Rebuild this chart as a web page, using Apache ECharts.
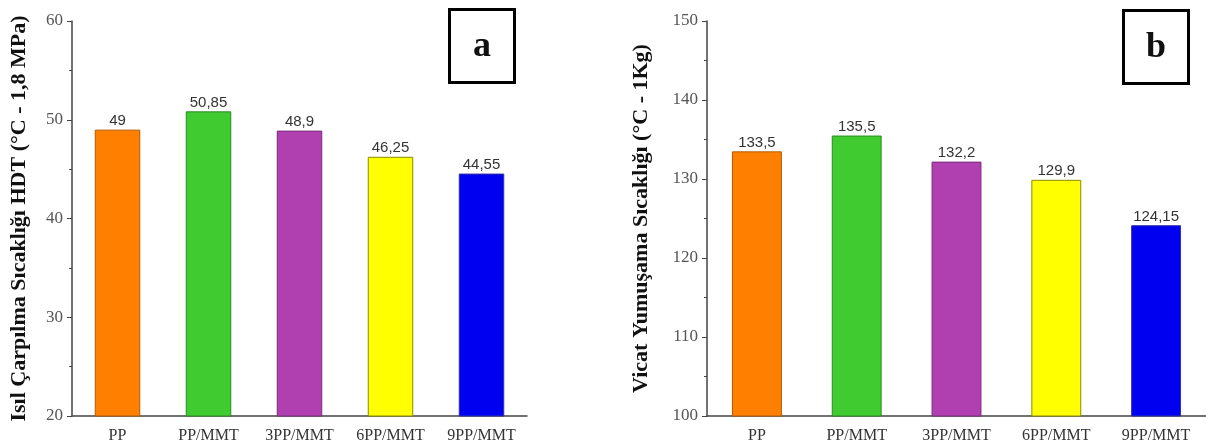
<!DOCTYPE html>
<html lang="tr">
<head>
    <meta charset="UTF-8">
    <title>HDT / Vicat</title>
    <style>
        html,body{
            height: 100%;
        }
        body{
            margin: 0;
            padding: 0;
            background: #fff;
        }
        #chart{
            width: 1206px;
            height: 447px;
        }
    </style>
</head>
<body>
    <div id="chart"></div>
<script src="https://cdn.jsdelivr.net/npm/echarts@6/dist/echarts.min.js"></script>
<script>
    var categories = ['PP', 'PP/MMT', '3PP/MMT', '6PP/MMT', '9PP/MMT'];
    var hdtValues = [49, 50.85, 48.9, 46.25, 44.55];
    var vicatValues = [133.5, 135.5, 132.2, 129.9, 124.15];
    var barColors = ['#ff8000', '#40cc30', '#b040b0', '#ffff00', '#0000f0'];
    var borderColors = ['#b05a00', '#2a8a20', '#7a2a7a', '#8a8a00', '#3030a0'];

    var serif = '"Liberation Serif", "DejaVu Serif", serif';
    var sans = '"Liberation Sans", Arial, sans-serif';
    var axisColor = '#444';

    function toData(values) {
        return values.map(function (v, i) {
            return {
                value: v,
                itemStyle: { color: barColors[i], borderColor: borderColors[i], borderWidth: 1 }
            };
        });
    }

    function xAxisFor(gridIndex) {
        return {
            type: 'category',
            gridIndex: gridIndex,
            data: categories,
            axisLine: { lineStyle: { color: axisColor, width: 1.5 } },
            axisTick: { alignWithLabel: true, length: 5, lineStyle: { color: axisColor } },
            axisLabel: { color: '#333', fontFamily: serif, fontSize: 16, margin: 12 }
        };
    }

    function yAxisFor(gridIndex, min, max, name, gap) {
        return {
            type: 'value',
            gridIndex: gridIndex,
            min: min,
            max: max,
            interval: 10,
            name: name,
            nameLocation: 'middle',
            nameRotate: 90,
            nameGap: gap,
            nameTextStyle: { color: '#111', fontFamily: serif, fontSize: 22, fontWeight: 'bold' },
            axisLine: { show: true, lineStyle: { color: axisColor, width: 1.5 } },
            axisTick: { show: true, length: 5, lineStyle: { color: axisColor } },
            minorTick: { show: true, splitNumber: 2, length: 3, lineStyle: { color: axisColor } },
            splitLine: { show: false },
            axisLabel: { color: '#555', fontFamily: serif, fontSize: 17, margin: 9 }
        };
    }

    function barSeries(index, values) {
        return {
            type: 'bar',
            xAxisIndex: index,
            yAxisIndex: index,
            barWidth: '50%',
            data: toData(values),
            label: {
                show: true,
                position: 'top',
                distance: 1,
                color: '#333',
                fontFamily: sans,
                fontSize: 15,
                formatter: function (p) { return String(p.value).replace('.', ','); }
            }
        };
    }

    function panelBox(x, y, letter) {
        return {
            type: 'group',
            left: x,
            top: y,
            children: [
                {
                    type: 'rect',
                    shape: { x: 0, y: 0, width: 65, height: 73 },
                    style: { fill: '#fff', stroke: '#000', lineWidth: 3 }
                },
                {
                    type: 'text',
                    x: 32.5,
                    y: 37,
                    style: {
                        text: letter,
                        fill: '#111',
                        font: 'bold 36px ' + serif,
                        textAlign: 'center',
                        textVerticalAlign: 'middle'
                    }
                }
            ]
        };
    }

    var myChart = echarts.init(document.getElementById('chart'));

    myChart.setOption({
        animation: false,
        grid: [
            { left: 72, top: 21, width: 455, height: 395 },
            { left: 707, top: 21, width: 499, height: 395 }
        ],
        xAxis: [xAxisFor(0), xAxisFor(1)],
        yAxis: [
            yAxisFor(0, 20, 60, 'Isıl Çarpılma Sıcaklığı HDT (°C - 1,8 MPa)', 42),
            yAxisFor(1, 100, 150, 'Vicat Yumuşama Sıcaklığı (°C - 1Kg)', 55)
        ],
        series: [barSeries(0, hdtValues), barSeries(1, vicatValues)],
        graphic: [panelBox(448, 8, 'a'), panelBox(1122, 9, 'b')]
    });
</script>
</body>
</html>
